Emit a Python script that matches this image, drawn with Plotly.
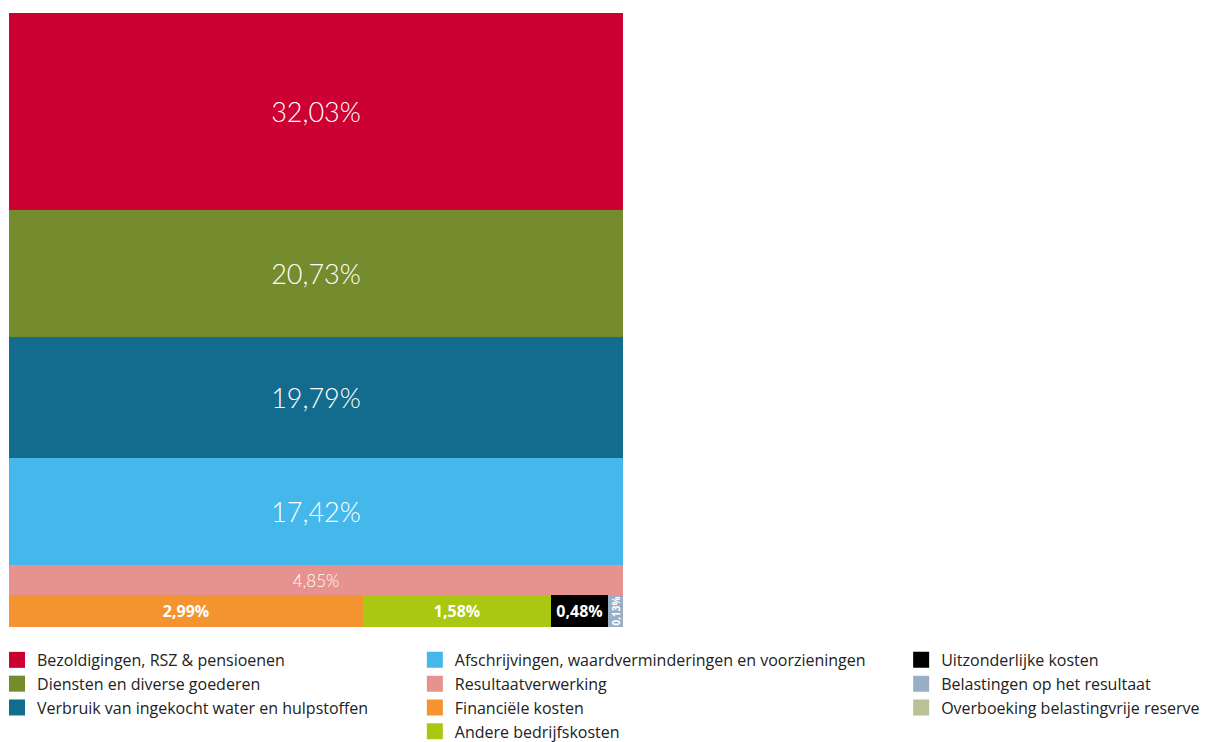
import plotly.graph_objects as go

# Top bands (stacked vertically, full width)
band_labels = [
    "Bezoldigingen, RSZ & pensioenen",
    "Diensten en diverse goederen",
    "Verbruik van ingekocht water en hulpstoffen",
    "Afschrijvingen, waardverminderingen en voorzieningen",
    "Resultaatverwerking",
]
band_values = [32.03, 20.73, 19.79, 17.42, 4.85]
band_colors = ["#CC0033", "#758C2E", "#136B8E", "#44B8EA", "#E6928E"]

# Bottom row (split horizontally)
row_labels = [
    "Financiële kosten",
    "Andere bedrijfskosten",
    "Uitzonderlijke kosten",
    "Belastingen op het resultaat",
    "Overboeking belastingvrije reserve",
]
row_values = [2.99, 1.58, 0.48, 0.13, 0.00]
row_colors = ["#F39430", "#AAC812", "#000000", "#9AAFC5", "#B9C295"]

legend_of = {
    "Bezoldigingen, RSZ & pensioenen": "legend",
    "Diensten en diverse goederen": "legend",
    "Verbruik van ingekocht water en hulpstoffen": "legend",
    "Afschrijvingen, waardverminderingen en voorzieningen": "legend2",
    "Resultaatverwerking": "legend2",
    "Financiële kosten": "legend2",
    "Andere bedrijfskosten": "legend2",
    "Uitzonderlijke kosten": "legend3",
    "Belastingen op het resultaat": "legend3",
    "Overboeking belastingvrije reserve": "legend3",
}

def fmt(v):
    return f"{v:.2f}".replace(".", ",") + "%"

total = sum(band_values) + sum(row_values)
W = total  # square: width in same units as height
FONT = "Open Sans"
LIGHT = "Lato"

fig = go.Figure()

def legend_entry(lab, c):
    fig.add_trace(go.Scatter(
        x=[None], y=[None], mode="markers", name=lab,
        marker=dict(symbol="square", size=16, color=c, line=dict(width=0)),
        legend=legend_of[lab], hoverinfo="skip",
    ))

cum = 0.0
for lab, v, c in zip(band_labels, band_values, band_colors):
    big = v > 10
    fig.add_trace(go.Bar(
        x=[W / 2], y=[v], base=[cum], width=[W],
        name=lab, marker=dict(color=c, line=dict(width=0)),
        text=[fmt(v)], textposition="inside", insidetextanchor="middle",
        textangle=0, constraintext="none",
        textfont=dict(family=LIGHT, size=27 if big else 17, color="white", weight=300),
        showlegend=False, hoverinfo="skip",
    ))
    legend_entry(lab, c)
    cum += v

row_total = sum(row_values)
xcum = 0.0
for lab, v, c in zip(row_labels, row_values, row_colors):
    w = v / row_total * W
    small = v < 0.3
    fig.add_trace(go.Bar(
        x=[xcum + w / 2], y=[row_total], base=[cum], width=[w],
        name=lab, marker=dict(color=c, line=dict(width=0)),
        text=[fmt(v)] if v > 0 else [""], textposition="inside",
        insidetextanchor="middle",
        textangle=-90 if small else 0, constraintext="none",
        textfont=dict(family=FONT, size=10 if small else 16, color="white", weight=700),
        showlegend=False, hoverinfo="skip",
    ))
    legend_entry(lab, c)
    xcum += w

leg_common = dict(
    orientation="v", yanchor="top", xanchor="left",
    font=dict(family=FONT, size=16, color="#222222"),
    bgcolor="rgba(0,0,0,0)", tracegroupgap=0, itemwidth=30,
    traceorder="normal",
)

fig.update_layout(
    width=1225, height=742,
    margin=dict(l=1, r=610, t=5, b=123, autoexpand=False),
    paper_bgcolor="white", plot_bgcolor="white",
    barmode="overlay", bargap=0,
    showlegend=True,
    xaxis=dict(range=[0, W], visible=False, fixedrange=True),
    yaxis=dict(range=[total, 0], visible=False, fixedrange=True),
    legend=dict(x=-0.0195, y=-0.026, **leg_common),
    legend2=dict(x=0.661, y=-0.026, **leg_common),
    legend3=dict(x=1.453, y=-0.026, **leg_common),
)

fig.write_html("out.html")
